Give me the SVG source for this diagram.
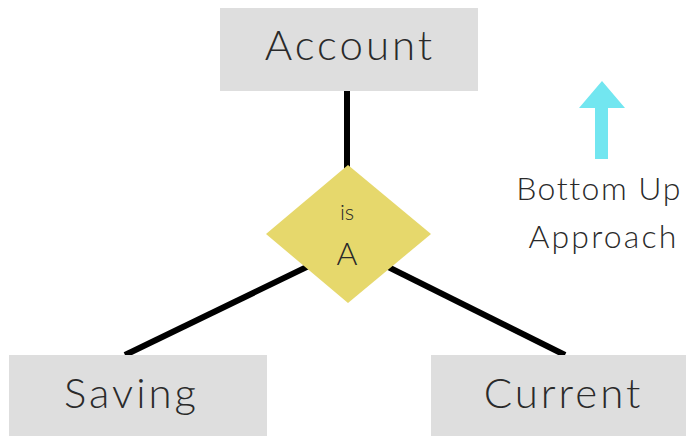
<svg xmlns="http://www.w3.org/2000/svg" width="686" height="436" viewBox="0 0 686 436">
<style>
.box{fill:#dedede}
.lbl{font-family:"Lato","Liberation Sans",sans-serif;font-weight:300;fill:#2a2a2a;text-anchor:middle}
.big{font-size:42px;letter-spacing:3px}
.note{font-size:32px;letter-spacing:2.2px}
.conn{stroke:#000;stroke-width:6;fill:none}
</style>
<rect width="686" height="436" fill="#fff"/>
<g id="connectors">
<line class="conn" x1="347" y1="91" x2="347" y2="200"/>
<line class="conn" x1="348" y1="247" x2="125" y2="355"/>
<line class="conn" x1="348" y1="247" x2="565" y2="355"/>
</g>
<g id="account">
<rect class="box" x="220" y="8" width="258" height="83"/>
<text class="lbl big" x="350" y="60">Account</text>
</g>
<g id="isa">
<polygon points="348,165 431,234 348,303 266,234" fill="#e6d86c"/>
<text class="lbl" x="347" y="220" font-size="22">is</text>
<text class="lbl" x="347" y="265" font-size="32">A</text>
</g>
<g id="saving">
<rect class="box" x="9" y="355" width="258" height="81"/>
<text class="lbl big" x="131.5" y="408">Saving</text>
</g>
<g id="current">
<rect class="box" x="431" y="355" width="255" height="81"/>
<text class="lbl big" x="563.5" y="408">Current</text>
</g>
<g id="note">
<polygon points="602,81 625,108 608,108 608,159 595,159 595,108 579,108" fill="#72e6f0"/>
<text class="lbl note" x="599" y="200" style="letter-spacing:1.5px">Bottom Up</text>
<text class="lbl note" x="603.5" y="248">Approach</text>
</g>
</svg>
